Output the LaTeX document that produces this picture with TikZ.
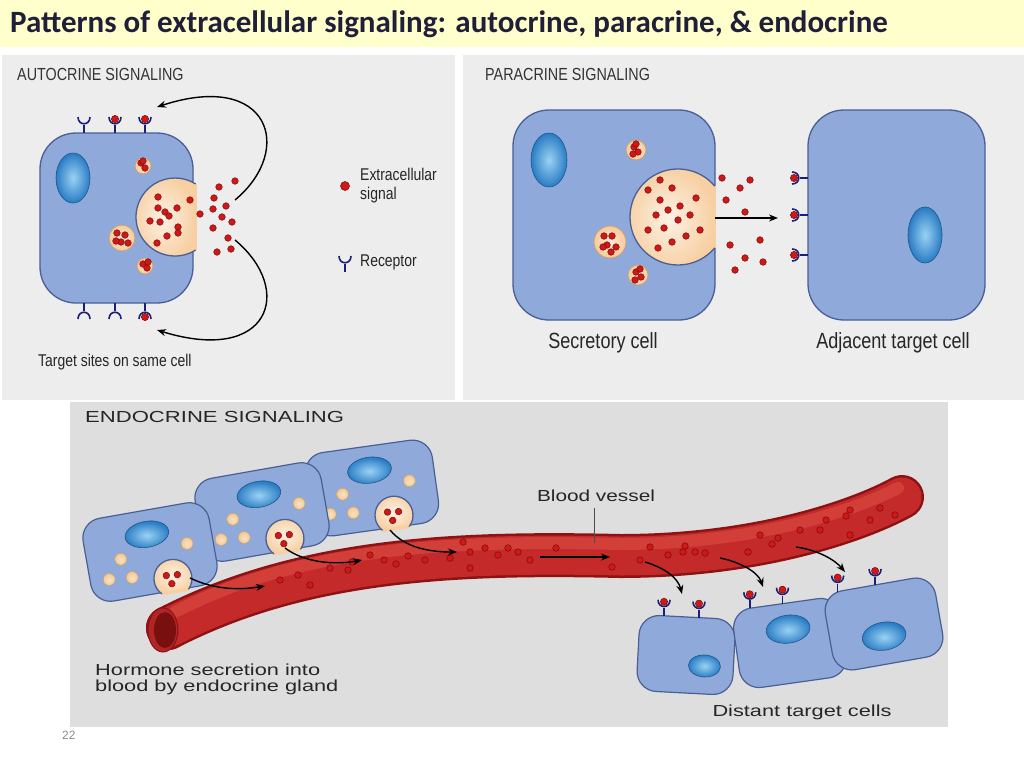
\documentclass[tikz,border=0pt]{standalone}
\usepackage{fontspec}
\setmainfont{Liberation Sans}
\newfontfamily\titlefont{Carlito}
\definecolor{cellblue}{HTML}{8FA9DA}
\definecolor{cellline}{HTML}{4A5F95}
\definecolor{peach}{HTML}{F6DDBE}
\definecolor{peachline}{HTML}{C9A27A}
\definecolor{sigred}{HTML}{D01818}
\definecolor{sigdark}{HTML}{7A0A0A}
\definecolor{recblue}{HTML}{1A1F7A}
\definecolor{nucin}{HTML}{9AD2F4}
\definecolor{nucout}{HTML}{2A7CC4}
\definecolor{vesdark}{HTML}{8E1212}
\definecolor{vesred}{HTML}{C42A2A}
\definecolor{vesmid}{HTML}{D8483F}
\definecolor{granule}{HTML}{F0C890}
\definecolor{titlebg}{HTML}{FFFFCC}
\definecolor{titletext}{HTML}{1F1F3A}
\usetikzlibrary{arrows.meta,calc}
\tikzset{
 cell/.style={fill=cellblue, draw=cellline, line width=1.3pt, rounded corners=36pt},
 gcell/.style={fill=cellblue, draw=cellline, line width=1.2pt, rounded corners=20pt},
 sig/.style={fill=sigred, draw=sigdark, line width=0.5pt},
 rec/.style={draw=recblue, line width=1.6pt},
 arr/.style={-{Stealth[length=9pt,width=7pt]}, line width=1.4pt, black},
 lab/.style={font=\fontsize{17}{19}\selectfont, inner sep=0pt, anchor=west, text=black!85},
 tlab/.style={font=\fontsize{17.5}{19}\selectfont, inner sep=0pt, anchor=west, text=black!80},
 elab/.style={font=\fontsize{16}{18}\selectfont, inner sep=0pt, anchor=west, align=left, text=black!85},
 receptor/.pic={\draw[rec] (0,0)--(0,-8); \draw[rec] (-6,-16) .. controls (-6,-7) and (6,-7) .. (6,-16);},
 boundrec/.pic={\draw[rec] (0,0)--(0,-8); \draw[rec] (-6,-16) .. controls (-6,-7) and (6,-7) .. (6,-16); \filldraw[sig] (0,-14) circle (3.6);},
}
\newcommand\sg[2]{\filldraw[sig] (#1,#2) circle (3.3);}
\newcommand\nuc[4]{\shadedraw[inner color=nucin, outer color=nucout, draw=nucout!70!black, line width=0.6pt] (#1,#2) ellipse (#3 and #4);}
\newcommand\vesi[3]{\shadedraw[inner color=peach!60, outer color=peach!80!orange, draw=peachline, line width=0.8pt] (#1,#2) circle (#3);}
\newcommand\cav[5]{%
 \shade[inner color=peach!40, outer color=peach!85!orange] (#1,#2) ++(#4:#3) arc[start angle=#4, end angle=#5, radius=#3] -- cycle;
 \draw[peach!85!orange, line width=3pt] (#1,#2) ++(#4:#3) -- ($(#1,#2)+(#5:#3)$);
 \draw[cellline, line width=1.3pt] (#1,#2) ++(#4:#3) arc[start angle=#4, end angle=#5, radius=#3];}
\begin{document}
\begin{tikzpicture}[x=1pt,y=-1pt]
\useasboundingbox (0,0) rectangle (1024,768);
\fill[white] (0,0) rectangle (1024,768);
% title
\fill[titlebg] (0,0) rectangle (1024,47);
\node[anchor=west, inner sep=0pt, text=titletext] (title) at (10,24) {\titlefont\bfseries\fontsize{31}{34}\selectfont Patterns of extracellular signaling: autocrine, paracrine, \& endocrine};
% panels
\fill[black!7] (2,55) rectangle (455,400);
\fill[black!7] (463,55) rectangle (1024,400);
\fill[black!13] (70,402) rectangle (948,727);
\node[anchor=west, text=black!45, inner sep=0pt, font=\fontsize{12}{14}\selectfont] (pg) at (62,735) {22};

%%%%% AUTOCRINE
\node[tlab] (alab) at (17,74) {\scalebox{0.82}[1]{AUTOCRINE SIGNALING}};
\draw[cell] (40,133) rectangle (193,303);
\cav{175}{217}{39}{58}{302}
\nuc{73}{178}{17}{25}
\vesi{143}{166}{8} \sg{141}{163}\sg{145}{168}\sg{143}{161}
\vesi{122}{238}{13} \sg{117}{233}\sg{125}{235}\sg{121}{242}\sg{128}{243}\sg{116}{241}
\vesi{145}{266}{8} \sg{143}{264}\sg{147}{268}\sg{148}{262}
\foreach \p in {(158,197),(158,208),(165,212),(169,216),(177,208),(190,200),(150,221),(160,222),(178,227),(167,236),(178,233),(157,243),(200,214),(213,209),(219,187),(214,198),(226,206),(235,181),(213,228),(222,217),(232,222),(228,238),(217,252),(231,249)}
  \filldraw[sig] \p circle (3.3);
\pic at (84,133) {receptor};
\pic at (115,133) {boundrec};
\pic at (145,133) {boundrec};
\pic[rotate=180] at (84,303) {receptor};
\pic[rotate=180] at (115,303) {receptor};
\pic[rotate=180] at (145,303) {boundrec};
\coordinate (atop) at (235,200);
\coordinate (atoph) at (157,107);
\coordinate (abot) at (235,240);
\coordinate (aboth) at (157,330);
\draw[arr] (atop) .. controls (295,150) and (270,70) .. (atoph);
\draw[arr] (abot) .. controls (295,290) and (270,365) .. (aboth);
\filldraw[sig] (345,186) circle (4.5);
\node[lab, align=left] (lsig) at (360,186) {\scalebox{0.82}[1]{\begin{tabular}{@{}l@{}}Extracellular\\signal\end{tabular}}};
\pic at (345,272) {receptor};
\node[lab] (lrec) at (360,262) {\scalebox{0.82}[1]{Receptor}};
\node[lab] (ltarget) at (38,362) {\scalebox{0.82}[1]{Target sites on same cell}};

%%%%% PARACRINE
\node[tlab] (plab) at (485,74) {\scalebox{0.82}[1]{PARACRINE SIGNALING}};
\draw[cell] (513,110) rectangle (715,320);
\cav{678}{217}{48}{40}{320}
\nuc{549}{160}{18}{27}
\vesi{636}{150}{10} \sg{634}{147}\sg{638}{152}\sg{636}{144}\sg{633}{154}
\vesi{610}{242}{16} \sg{604}{236}\sg{612}{236}\sg{607}{245}\sg{616}{247}\sg{611}{252}\sg{603}{247}
\vesi{638}{275}{10} \sg{636}{272}\sg{641}{277}\sg{635}{280}\sg{640}{269}
\foreach \p in {(648,190),(660,180),(660,200),(672,188),(668,210),(680,206),(656,215),(664,228),(678,220),(690,215),(648,230),(686,236),(672,242),(696,198),(700,230),(658,248),(726,200),(740,188),(750,180),(722,178),(745,212),(760,240),(730,245),(745,258),(763,262),(735,270)}
  \filldraw[sig] \p circle (3.3);
\draw[cell] (808,110) rectangle (985,320);
\nuc{925}{235}{17}{28}
\pic[rotate=90] at (808,178) {boundrec};
\pic[rotate=90] at (808,215) {boundrec};
\pic[rotate=90] at (808,255) {boundrec};
\coordinate (parS) at (715,218);
\coordinate (parE) at (778,218);
\draw[arr] (parS) -- (parE);
\node[lab, anchor=center] (lsec) at (603,343) {\scalebox{0.82}[1]{\fontsize{22}{24}\selectfont Secretory cell}};
\node[lab, anchor=center] (ladj) at (893,343) {\scalebox{0.82}[1]{\fontsize{22}{24}\selectfont Adjacent target cell}};

%%%%% ENDOCRINE
\begin{scope}
\clip (70,402) rectangle (948,727);
\node[elab] (elab) at (85,417) {\scalebox{1.38}[1]{ENDOCRINE SIGNALING}};
% vessel
\draw[vesdark, line width=44pt, line cap=round] (168,628) .. controls (300,560) and (450,552) .. (620,556) .. controls (760,556) and (860,520) .. (902,497);
\fill[vesdark] (168,628) circle (22);
\draw[vesred, line width=39pt, line cap=round] (168,628) .. controls (300,560) and (450,552) .. (620,556) .. controls (760,556) and (860,520) .. (902,497);
\draw[vesmid, line width=12pt, line cap=round, opacity=0.7] (175,612) .. controls (300,547) and (450,540) .. (620,544) .. controls (760,544) and (860,508) .. (898,488);
\filldraw[fill=vesred!90!black, draw=vesdark, line width=1pt] (163,630) ellipse (15 and 22);
\fill[vesdark!85!black] (165,630) ellipse (11 and 18);
\foreach \p in {(280,580),(298,575),(310,585),(330,568),(348,570),(352,562),(370,555),(384,560),(396,564),(408,556),(425,560),(450,558),(463,542),(470,552),(485,548),(498,555),(508,548),(518,552),(530,560),(556,548),(612,567),(650,547),(668,555),(683,552),(685,546),(695,552),(705,553),(748,552),(760,535),(772,544),(778,538),(800,530),(820,530),(826,520),(846,516),(850,510),(870,520),(880,508),(850,535),(895,515),(470,568),(640,560)}
  \filldraw[sig] \p circle (3.3);
\coordinate (bvtop) at (594,508);
\coordinate (bvbot) at (594,543);
\draw[black!70, line width=0.8pt] (bvtop) -- (bvbot);
\node[elab, anchor=center] (lbv) at (596,496) {\scalebox{1.3}[1]{Blood vessel}};
% gland cells
\foreach \cx/\cy/\ang in {372/488/8, 262/512/10, 150/552/10}{
\begin{scope}[shift={(\cx,\cy)}, rotate=\ang]
 \draw[gcell] (-64,-42) rectangle (64,42);
 \cav{18}{30}{19}{135}{405}
 \nuc{0}{-18}{22}{13}
 \foreach \g in {(-30,2),(38,-2),(-22,22),(-45,20)} \shadedraw[inner color=granule!50, outer color=granule, draw=peachline, line width=0.6pt] \g circle (6);
 \sg{12}{26}\sg{23}{27}\sg{16}{35}
\end{scope}}
\draw[arr] (190,578) .. controls (215,590) and (240,590) .. (265,586);
\draw[arr] (285,548) .. controls (305,563) and (335,565) .. (362,560);
\draw[arr] (390,530) .. controls (405,548) and (430,552) .. (457,552);
\draw[arr] (540,557) -- (610,557);
\draw[arr] (645,562) .. controls (665,568) and (678,578) .. (682,594);
\draw[arr] (720,558) .. controls (740,562) and (758,572) .. (763,587);
\draw[arr] (796,547) .. controls (818,550) and (835,560) .. (845,572);
% target cells
\begin{scope}[shift={(686,655)}, rotate=-3]
 \draw[gcell] (-48,-38) rectangle (48,38);
 \nuc{19}{10}{16}{11}
 \pic at (-24,-38) {boundrec}; \pic at (11,-38) {boundrec};
\end{scope}
\begin{scope}[shift={(790,643)}, rotate=8]
 \draw[gcell] (-54,-40) rectangle (54,40);
 \nuc{0}{-14}{22}{14}
 \pic at (-35,-40) {boundrec}; \pic at (-2,-40) {boundrec};
\end{scope}
\begin{scope}[shift={(884,624)}, rotate=10]
 \draw[gcell] (-56,-40) rectangle (56,40);
 \nuc{-2}{12}{22}{14}
 \pic at (-40,-40) {boundrec}; \pic at (-2,-40) {boundrec};
\end{scope}
\node[elab] (lhorm) at (95,680) {\scalebox{1.36}[1]{\begin{tabular}{@{}l@{}}Hormone secretion into\\[-2pt]blood by endocrine gland\end{tabular}}};
\node[elab, anchor=center] (ldist) at (802,712) {\scalebox{1.36}[1]{Distant target cells}};
\end{scope}
\end{tikzpicture}
\end{document}
